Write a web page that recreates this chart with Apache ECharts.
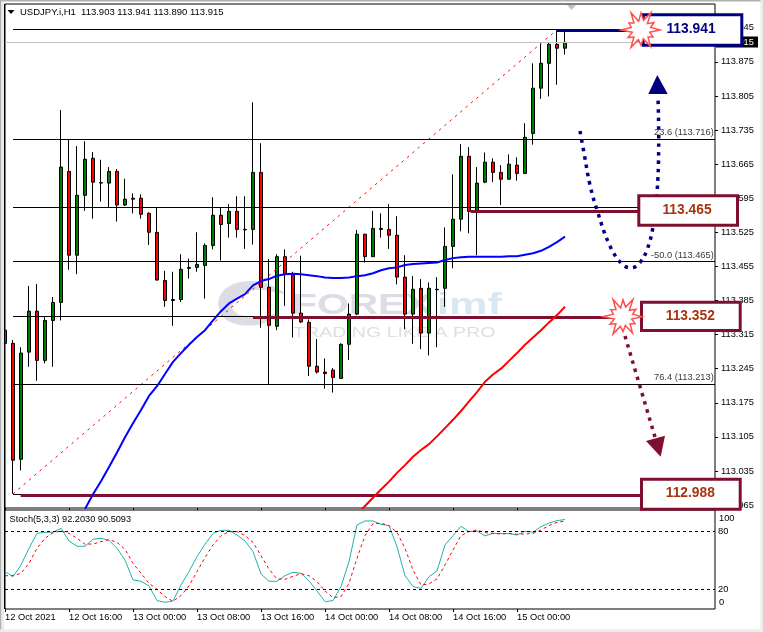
<!DOCTYPE html>
<html><head><meta charset="utf-8">
<style>html,body{margin:0;padding:0;background:#fff}#c{width:763px;height:632px}</style>
<script src="https://cdn.jsdelivr.net/npm/echarts@6/dist/echarts.min.js"></script>
</head><body><div id="c"></div>
<script>
const opens=[113.324,113.297,113.059,113.279,113.363,113.262,113.344,113.381,113.650,113.478,113.601,113.677,113.626,113.626,113.650,113.581,113.595,113.595,113.564,113.525,113.426,113.387,113.387,113.453,113.453,113.457,113.498,113.560,113.543,113.568,113.531,113.531,113.648,113.412,113.332,113.475,113.437,113.359,113.340,113.250,113.238,113.242,113.225,113.295,113.357,113.521,113.475,113.531,113.531,113.519,113.433,113.357,113.410,113.318,113.408,113.410,113.496,113.552,113.681,113.570,113.628,113.669,113.648,113.634,113.663,113.646,113.728,113.821,113.872,113.911,113.903];
const closes=[113.297,113.057,113.277,113.363,113.262,113.344,113.381,113.659,113.478,113.601,113.675,113.628,113.627,113.650,113.581,113.593,113.593,113.562,113.525,113.427,113.385,113.385,113.449,113.451,113.459,113.498,113.560,113.541,113.568,113.531,113.530,113.648,113.412,113.334,113.475,113.439,113.359,113.341,113.250,113.238,113.235,113.227,113.295,113.357,113.521,113.475,113.533,113.533,113.519,113.433,113.357,113.408,113.318,113.410,113.407,113.496,113.552,113.681,113.568,113.626,113.669,113.648,113.634,113.665,113.646,113.720,113.821,113.872,113.911,113.903,113.915];
const lows=[113.228,112.988,113.036,113.249,113.220,113.256,113.249,113.344,113.448,113.439,113.569,113.553,113.588,113.576,113.547,113.579,113.564,113.553,113.499,113.426,113.372,113.333,113.382,113.430,113.444,113.389,113.490,113.467,113.514,113.514,113.491,113.500,113.329,113.213,113.324,113.374,113.309,113.339,113.230,113.235,113.204,113.196,113.225,113.263,113.355,113.463,113.475,113.514,113.491,113.418,113.326,113.296,113.285,113.272,113.289,113.372,113.451,113.527,113.523,113.478,113.626,113.628,113.581,113.634,113.631,113.646,113.705,113.799,113.804,113.828,113.890];
const highs=[113.329,113.304,113.289,113.415,113.419,113.352,113.392,113.776,113.715,113.702,113.712,113.690,113.674,113.659,113.655,113.635,113.605,113.603,113.566,113.576,113.446,113.444,113.480,113.471,113.525,113.502,113.597,113.576,113.583,113.599,113.599,113.792,113.708,113.470,113.480,113.490,113.444,113.477,113.346,113.306,113.266,113.246,113.297,113.379,113.530,113.522,113.569,113.564,113.583,113.558,113.478,113.435,113.429,113.422,113.433,113.535,113.644,113.706,113.700,113.659,113.689,113.677,113.663,113.685,113.679,113.749,113.872,113.913,113.915,113.941,113.941];
const blueMaStart=10;
const blueMa=[112.957,112.987,113.014,113.043,113.073,113.104,113.133,113.160,113.189,113.209,113.234,113.259,113.277,113.294,113.310,113.324,113.344,113.363,113.379,113.389,113.398,113.416,113.425,113.429,113.436,113.439,113.440,113.439,113.437,113.435,113.432,113.431,113.431,113.432,113.435,113.437,113.441,113.447,113.451,113.453,113.458,113.460,113.461,113.462,113.463,113.468,113.472,113.474,113.475,113.475,113.475,113.475,113.475,113.476,113.476,113.479,113.482,113.487,113.495,113.505,113.516];
const redMaStart=44;
const redMa=[112.945,112.963,112.980,112.997,113.013,113.031,113.047,113.064,113.078,113.090,113.106,113.123,113.140,113.158,113.178,113.197,113.218,113.233,113.245,113.261,113.277,113.294,113.309,113.324,113.340,113.355,113.372];
const stochMain=[38.3,33.1,45.2,62.4,77.9,79,79,83.1,70,64.5,64.5,71.7,72.8,70.7,62.4,50.3,29.7,28.3,23.5,8.3,6.6,7.9,24.5,38.3,53.8,66.6,77.9,81,81,76.2,70,59,35.9,28.3,28.3,34.1,37.6,36.6,28.6,18.3,7.2,8.3,22.8,48.6,86.6,90.7,90.7,87.2,85.9,64.1,34.1,22.8,21,33.1,39,65.9,75.5,85.2,79.7,80.3,75.2,77.9,77.6,77.6,76.2,80,79,84.8,88.6,91,92.2];
const stochSignal=[34.1,34.1,36.6,46.9,62.4,72.8,78.6,80.3,77.9,72.8,66.6,66.9,69.3,71.4,68.6,61.4,46.9,36.6,26.2,20,12.4,7.6,13.5,23.5,38.3,52.8,65.9,75.5,79.7,79.7,75.5,68.6,54.8,41,30.7,30.3,33.4,36.2,34.1,27.9,18.3,11.4,12.4,26.2,52.1,75.5,87.9,88.3,85.9,79,62.4,40,24.5,25.5,30.7,45.2,60.7,75.5,79.7,81.4,78.6,77.9,77.2,77.9,76.9,77.2,77.9,81.4,85.9,89.3,90.5];
const timeLabels=['12 Oct 2021','12 Oct 16:00','13 Oct 00:00','13 Oct 08:00','13 Oct 16:00','14 Oct 00:00','14 Oct 08:00','14 Oct 16:00','15 Oct 00:00'];
const timeTicks=[0,8,16,24,32,40,48,56,64];
const priceTicks=[112.965,113.035,113.105,113.175,113.245,113.315,113.385,113.455,113.525,113.595,113.665,113.735,113.805,113.875,113.945];
const fibLevels=[113.941,113.716,113.577,113.465,113.352,113.213,112.988];
const fibLabels=[['23.6 (113.716)',113.716],['-50.0 (113.465)',113.465],['76.4 (113.213)',113.213]];
const fibLow=[1,112.988], fibHigh=[69,113.941];
const bidPrice=113.915;
const stochLevels=[20,80];
const maroonLevels=[[1.95,112.985,79.5],[31,113.3505,76],[58.2,113.568,79.2]];
const navyLevel=[68.9,113.939,78];
const titleText='USDJPY.i,H1  113.903 113.941 113.890 113.915';
const stochText='Stoch(5,3,3) 92.2030 90.5093';
const FONT='"Liberation Sans"', AF=9.3;
const MAROON='#7f0f2e', NAVY='#000080', RUST='#a5360f';

const candles=opens.map((o,i)=>[i,o,closes[i],lows[i],highs[i]]);
const xMax=88.75;
const chart=echarts.init(document.getElementById('c'),null,{renderer:'canvas'});

function star(cx,cy,rs){const n=rs.length,p=[];for(let k=0;k<n;k++){const a=-Math.PI/2+k*2*Math.PI/n;p.push([cx+rs[k]*Math.cos(a),cy+rs[k]*Math.sin(a)]);}return p;}
const starR=[17,10,20,9,15,10,19,9,14,10,19,9,15,10,20,10,15,9,20,10,14,10,20,9];
function box(x0,y0,x1,y1,c,txt,tc,cx,cy){return [
 {type:'rect',z:100,shape:{x:x0+1.5,y:y0+1.5,width:x1-x0-3,height:y1-y0-3},style:{fill:'#fff',stroke:c,lineWidth:3}},
 {type:'text',z:101,x:cx,y:cy,style:{text:txt,fill:tc,font:'bold 13.8px '+FONT,align:'center',verticalAlign:'middle'}}];}
const g=[
 {type:'rect',z:120,shape:{x:0,y:0,width:763,height:1.5},style:{fill:'#b0b0b0'}},
 {type:'rect',z:120,shape:{x:0,y:0,width:1.5,height:632},style:{fill:'#b0b0b0'}},
 {type:'rect',z:120,shape:{x:1.5,y:1.5,width:2.5,height:630},style:{fill:'#ececec'}},
 {type:'rect',z:120,shape:{x:4,y:4,width:1,height:605},style:{fill:'#000'}},
 {type:'rect',z:120,shape:{x:0,y:629.5,width:763,height:2.5},style:{fill:'#ececec'}},
 {type:'rect',z:120,shape:{x:760.5,y:0,width:2.5,height:632},style:{fill:'#ececec'}},
 // watermark
 {type:'polygon',z:0,shape:{smooth:0.3,points:[[218,303],[224,290],[240,282],[262,282],[286,294],[262,290],[246,292],[236,300],[232,308],[240,315],[262,317],[276,314],[262,324],[240,325],[224,318]]},style:{fill:'#dcdce6'}},
 {type:'text',z:0,x:292,y:306,scaleX:1.36,style:{text:'FOREX',fill:'#dcdce6',font:'bold 30px '+FONT,align:'left',verticalAlign:'middle'}},
 {type:'text',z:0,x:437,y:306,scaleX:1.44,style:{text:'imf',fill:'#d8e8f3',font:'bold 30px '+FONT,align:'left',verticalAlign:'middle'}},
 {type:'text',z:0,x:293,y:333.5,scaleX:1.4,style:{text:'TRADING LIKE A PRO',fill:'#dedee6',font:'14px '+FONT,align:'left',verticalAlign:'middle'}},
 // triangles
 {type:'polygon',z:5,shape:{points:[[7.5,10],[14.5,10],[11,14]]},style:{fill:'#000'}},
 {type:'polygon',z:5,shape:{points:[[567,5],[576,5],[571.5,10]]},style:{fill:'#c0c0c0'}},
 // bid tag
 {type:'rect',z:50,shape:{x:716,y:36.5,width:42,height:11},style:{fill:'#000'}},
 {type:'text',z:51,x:721,y:42.2,style:{text:bidPrice.toFixed(3),fill:'#fff',font:AF+'px '+FONT,align:'left',verticalAlign:'middle'}},
 // dotted navy U arrow
 {type:'polyline',z:60,shape:{smooth:0.4,points:[[580,131],[584,153],[590,185],[597,210],[610,246],[623,265],[633,267.5],[640,262.5],[647,250],[653,227],[657,193],[658.7,147],[658,97]]},style:{fill:'none',stroke:NAVY,lineWidth:3.5,lineDash:[3.5,5]}},
 {type:'polygon',z:60,shape:{points:[[657.3,75],[648.3,94],[667.7,94]]},style:{fill:NAVY}},
 // dotted maroon arrow
 {type:'polyline',z:60,shape:{points:[[625,336],[655,437]]},style:{fill:'none',stroke:MAROON,lineWidth:3.5,lineDash:[3.5,5]}},
 {type:'polygon',z:60,shape:{points:[[646,441],[665,435.7],[660.7,456.7]]},style:{fill:MAROON}},
 ...box(641.7,13.3,743.3,46.7,NAVY,'113.941',NAVY,691,29),
 ...box(637.3,194.3,739,226.7,MAROON,'113.465',RUST,687,210),
 ...box(640,300.7,741.7,332,MAROON,'113.352',RUST,690.3,316),
 ...box(640,477.7,741.7,510.7,MAROON,'112.988',RUST,690.3,493),
 {type:'polygon',z:110,shape:{points:star(641,30,starR)},style:{fill:'#fff',stroke:'#ff5050',lineWidth:1.5}},
 {type:'polygon',z:110,shape:{points:star(623,316.7,starR)},style:{fill:'#fff',stroke:'#ff5050',lineWidth:1.5}},
 // stochastic extreme labels
 {type:'text',z:5,x:719,y:518,style:{text:'100',fill:'#000',font:AF+'px '+FONT,align:'left',verticalAlign:'middle'}},
 {type:'text',z:5,x:719,y:602.7,style:{text:'0',fill:'#000',font:AF+'px '+FONT,align:'left',verticalAlign:'middle'}}
];
const option={
 animation:false,
 backgroundColor:'#fff',
 title:[
  {text:titleText,left:20,top:6.5,padding:0,textStyle:{fontFamily:FONT,fontSize:9.5,fontWeight:'normal',color:'#000',lineHeight:11},z:5},
  {text:stochText,left:9.5,top:514,padding:0,textStyle:{fontFamily:FONT,fontSize:9.2,fontWeight:'normal',color:'#000',lineHeight:11},z:5}
 ],
 grid:[
  {left:5,top:4,width:710,height:504,show:true,borderColor:'#000',borderWidth:1,backgroundColor:'transparent'},
  {left:5,top:510,width:710,height:99,show:true,borderColor:'#000',borderWidth:1,backgroundColor:'transparent'}
 ],
 xAxis:[
  {type:'value',gridIndex:0,min:0,max:xMax,axisLine:{show:false,onZero:false},splitLine:{show:false},axisLabel:{show:false},axisTick:{show:true,length:2,customValues:timeTicks,lineStyle:{color:'#000'}}},
  {type:'value',gridIndex:1,min:0,max:xMax,position:'bottom',axisLine:{show:false,onZero:false},splitLine:{show:false},
   axisTick:{show:true,length:3,customValues:timeTicks,lineStyle:{color:'#000'}},
   axisLabel:{show:true,customValues:timeTicks,margin:4,align:'left',color:'#000',fontFamily:FONT,fontSize:AF,hideOverlap:false,
    formatter:v=>timeLabels[timeTicks.indexOf(v)]||''}}
 ],
 yAxis:[
  {type:'value',gridIndex:0,position:'right',min:112.9589,max:113.9938,scale:true,axisLine:{show:false,onZero:false},splitLine:{show:false},
   axisTick:{show:true,length:3,customValues:priceTicks,lineStyle:{color:'#000'}},
   axisLabel:{show:true,customValues:priceTicks,margin:6,color:'#000',fontFamily:FONT,fontSize:AF,formatter:v=>v.toFixed(3)}},
  {type:'value',gridIndex:1,position:'right',min:-0.38,max:102.03,axisLine:{show:false,onZero:false},splitLine:{show:false},
   axisTick:{show:false},
   axisLabel:{show:true,customValues:stochLevels,margin:3,color:'#000',fontFamily:FONT,fontSize:AF}}
 ],
 series:[
  {type:'line',name:'fib',xAxisIndex:0,yAxisIndex:0,z:1,data:[],symbol:'none',silent:true,
   markLine:{silent:true,symbol:'none',animation:false,label:{show:false},lineStyle:{color:'#000',width:1,type:'solid'},
    data:fibLevels.map(p=>[{coord:[fibLow[0],p]},{coord:[xMax,p]}]).concat([[{coord:[0,bidPrice],lineStyle:{color:'#c0c0c0',width:1,type:'solid'}},{coord:[xMax,bidPrice]}]])}},
  {type:'candlestick',name:'USDJPY',xAxisIndex:0,yAxisIndex:0,z:3,barWidth:4,data:candles,encode:{x:0,y:[1,2,3,4]},clip:true,
   itemStyle:{color:'#007f00',color0:'#ff0000',borderColor:'#000',borderColor0:'#000',borderColorDoji:'#000',borderWidth:1}},
  {type:'line',name:'fibline',xAxisIndex:0,yAxisIndex:0,z:4,data:[fibLow,fibHigh],symbol:'none',silent:true,lineStyle:{color:'#ff0000',width:1,type:[2.5,4.5]}},
  {type:'line',name:'ma50',xAxisIndex:0,yAxisIndex:0,z:5,clip:true,symbol:'none',data:blueMa.map((v,k)=>[blueMaStart+k,v]),lineStyle:{color:'#0000ff',width:2}},
  {type:'line',name:'ma200',xAxisIndex:0,yAxisIndex:0,z:5,clip:true,symbol:'none',data:redMa.map((v,k)=>[redMaStart+k,v]),lineStyle:{color:'#ff0000',width:2}},
  {type:'line',name:'lines',xAxisIndex:0,yAxisIndex:0,z:6,data:[],symbol:'none',silent:true,
   markLine:{silent:true,symbol:'none',animation:false,label:{show:false},lineStyle:{color:MAROON,width:3,type:'solid'},
    data:maroonLevels.map(m=>[{coord:[m[0],m[1]]},{coord:[m[2],m[1]]}]).concat([[{coord:[navyLevel[0],navyLevel[1]],lineStyle:{color:NAVY,width:3,type:'solid'}},{coord:[navyLevel[2],navyLevel[1]]}]])}},
  {type:'scatter',name:'fibtext',xAxisIndex:0,yAxisIndex:0,z:7,symbolSize:0,silent:true,data:fibLabels.map(f=>({value:[88.6,f[1]],name:f[0]})),
   label:{show:true,position:'left',distance:0,offset:[0,-6.5],formatter:p=>p.name,color:'#000',fontFamily:FONT,fontSize:AF}},
  {type:'line',name:'lvl',xAxisIndex:1,yAxisIndex:1,z:1,data:[],symbol:'none',silent:true,
   markLine:{silent:true,symbol:'none',animation:false,label:{show:false},lineStyle:{color:'#000',width:1,type:[3,3]},data:stochLevels.map(v=>({yAxis:v}))}},
  {type:'line',name:'Stoch',xAxisIndex:1,yAxisIndex:1,z:3,symbol:'none',data:stochMain.map((v,i)=>[i,v]),lineStyle:{color:'#20b2aa',width:1}},
  {type:'line',name:'Signal',xAxisIndex:1,yAxisIndex:1,z:4,symbol:'none',data:stochSignal.map((v,i)=>[i,v]),lineStyle:{color:'#ff0000',width:1,type:[3,3]}}
 ],
 graphic:{elements:g}
};
chart.setOption(option);
</script></body></html>
